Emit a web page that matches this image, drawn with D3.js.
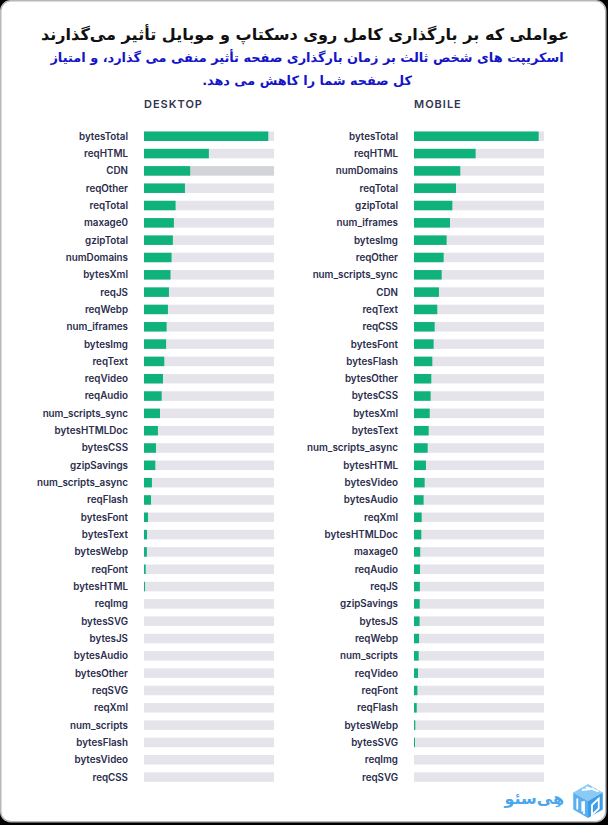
<!DOCTYPE html>
<html>
<head>
<meta charset="utf-8">
<script src="https://cdn.jsdelivr.net/npm/d3@7"></script>
<style>
html,body{margin:0;padding:0;background:#000;}
svg{display:block;}
</style>
</head>
<body>
<script>
const titleText = "عواملی که بر بارگذاری کامل روی دسکتاپ و موبایل تأثیر می‌گذارند";
const subtitleLines = ["اسکریپت های شخص ثالث بر زمان بارگذاری صفحه تأثیر منفی می گذارد، و امتیاز", "کل صفحه شما را کاهش می دهد."];
const panelTitles = ["DESKTOP", "MOBILE"];
const logoText = "هِی‌سئو";

const desktopCategories = ["bytesTotal","reqHTML","CDN","reqOther","reqTotal","maxage0","gzipTotal","numDomains","bytesXml","reqJS","reqWebp","num_iframes","bytesImg","reqText","reqVideo","reqAudio","num_scripts_sync","bytesHTMLDoc","bytesCSS","gzipSavings","num_scripts_async","reqFlash","bytesFont","bytesText","bytesWebp","reqFont","bytesHTML","reqImg","bytesSVG","bytesJS","bytesAudio","bytesOther","reqSVG","reqXml","num_scripts","bytesFlash","bytesVideo","reqCSS"];
const desktopValues = [0.956,0.499,0.355,0.315,0.243,0.230,0.222,0.212,0.204,0.192,0.184,0.174,0.170,0.156,0.146,0.136,0.123,0.107,0.092,0.087,0.061,0.054,0.031,0.023,0.022,0.013,0.008,0,0,0,0,0,0,0,0,0,0,0];
const desktopHighlight = ["CDN"];

const mobileCategories = ["bytesTotal","reqHTML","numDomains","reqTotal","gzipTotal","num_iframes","bytesImg","reqOther","num_scripts_sync","CDN","reqText","reqCSS","bytesFont","bytesFlash","bytesOther","bytesCSS","bytesXml","bytesText","num_scripts_async","bytesHTML","bytesVideo","bytesAudio","reqXml","bytesHTMLDoc","maxage0","reqAudio","reqJS","gzipSavings","bytesJS","reqWebp","num_scripts","reqVideo","reqFont","reqFlash","bytesWebp","bytesSVG","reqImg","reqSVG"];
const mobileValues = [0.959,0.474,0.356,0.323,0.295,0.277,0.251,0.228,0.213,0.192,0.179,0.159,0.151,0.141,0.133,0.128,0.121,0.113,0.105,0.092,0.082,0.074,0.059,0.056,0.048,0.046,0.045,0.044,0.043,0.039,0.036,0.031,0.026,0.021,0.010,0.005,0,0];
const mobileHighlight = [];

const W = 608, H = 825;
const svg = d3.select("body").append("svg").attr("width", W).attr("height", H);

// card
svg.append("rect").attr("x",0).attr("y",0).attr("width",W).attr("height",H).attr("fill","#000");
svg.append("rect").attr("x",0.75).attr("y",0.75).attr("width",W-3).attr("height",H-4).attr("rx",10).attr("ry",10)
  .attr("fill","#fff").attr("stroke","#b8b8bc").attr("stroke-width",1.5);

const fa = "'DejaVu Sans', 'Noto Sans', sans-serif";
function fitText(str, cx, cy, maxSize, targetW, color) {
  const t = svg.append("text").attr("x",cx).attr("y",cy).attr("text-anchor","middle")
    .attr("direction","rtl")
    .attr("font-family",fa).attr("font-weight","bold").attr("font-size",maxSize)
    .attr("fill",color).text(str);
  const w = t.node().getComputedTextLength();
  if (w > targetW) t.attr("font-size", maxSize * targetW / w);
  return t;
}
fitText(titleText, 305, 40, 21, 528, "#111");
fitText(subtitleLines[0], 307, 62, 16, 514, "#1414c8");
fitText(subtitleLines[1], 307, 85, 16, 210, "#1414c8");

const lab = "Inter, 'Open Sans', sans-serif";
const y0 = 131.5, step = 17.32, bh = 9.5;
const n = desktopCategories.length;

function panel(cats, vals, highlight, x0, labelRight, title) {
  const x = d3.scaleLinear().domain([0,1]).range([x0, x0+130]);
  const y = d3.scaleBand().domain(cats).range([y0, y0 + (n-1)*step + bh]).paddingInner(1 - bh/step).paddingOuter(0);
  const g = svg.append("g");
  g.append("text").attr("x", x(0)).attr("y", 108).attr("font-family", lab).attr("font-weight",600)
    .attr("font-size",11).attr("letter-spacing",1).attr("fill","#33344f").text(title);
  const rows = g.selectAll("g.row").data(cats.map((c,i)=>({c, v: vals[i]}))).join("g").attr("class","row");
  rows.append("rect").attr("x", x(0)).attr("y", d=>y(d.c)).attr("width", x(1)-x(0)).attr("height", y.bandwidth())
    .attr("fill", d=> highlight.includes(d.c) ? "#d3d3da" : "#e4e4ea");
  rows.filter(d=>d.v>0).append("rect").attr("x", x(0)).attr("y", d=>y(d.c)).attr("width", d=>Math.max(1, x(d.v)-x(0)))
    .attr("height", y.bandwidth()).attr("fill","#10b27c");
  rows.append("text").attr("x", labelRight).attr("y", d=>y(d.c)+y.bandwidth()/2).attr("dy","0.35em")
    .attr("text-anchor","end").attr("font-family", lab).attr("font-weight",600).attr("font-size",9.8)
    .attr("fill","#2b2d4d").text(d=>d.c);
}
panel(desktopCategories, desktopValues, desktopHighlight, 144, 128, panelTitles[0]);
panel(mobileCategories, mobileValues, mobileHighlight, 414, 398, panelTitles[1]);

// logo
const logo = svg.append("g").attr("transform","translate(588,801)");
const c = "#5aaff0";
const s = 17;
const hx = s*Math.cos(Math.PI/6), hy = s/2;
logo.append("path").attr("d",`M0,${-s} L${hx},${-hy} L0,0 L${-hx},${-hy} Z`).attr("fill","#8ccaf6");
logo.append("path").attr("d",`M${-hx},${-hy} L0,0 L0,${s} L${-hx},${hy} Z`).attr("fill",c);
logo.append("path").attr("d",`M${hx},${-hy} L0,0 L0,${s} L${hx},${hy} Z`).attr("fill","#3d9ce6");
logo.append("path").attr("d",`M${-hx+4},${-hy+6} L${-hx+4},${hy} M${-hx+9},${-hy+9} L${-hx+9},${hy+2} M-4,0 L-4,${s-4}`)
  .attr("stroke","#fff").attr("stroke-width",1.8).attr("fill","none");
logo.append("path").attr("d",`M4,4 L4,${s-3} L${hx-4},${hy-1} L${hx-4},${-hy+6} Z`).attr("stroke","#fff").attr("stroke-width",1.8).attr("fill","none");
logo.append("path").attr("d",`M-6,${-s+6} L6,${-hy-4} M-2,${-s+3} L${hx-4},${-hy-1}`).attr("stroke","#fff").attr("stroke-width",1.8);
svg.append("text").attr("x",564).attr("y",804).attr("text-anchor","end")
  .attr("font-family",fa).attr("font-weight","bold").attr("font-size",16).attr("fill","#4aa6ee").text(logoText);
</script>
</body>
</html>
